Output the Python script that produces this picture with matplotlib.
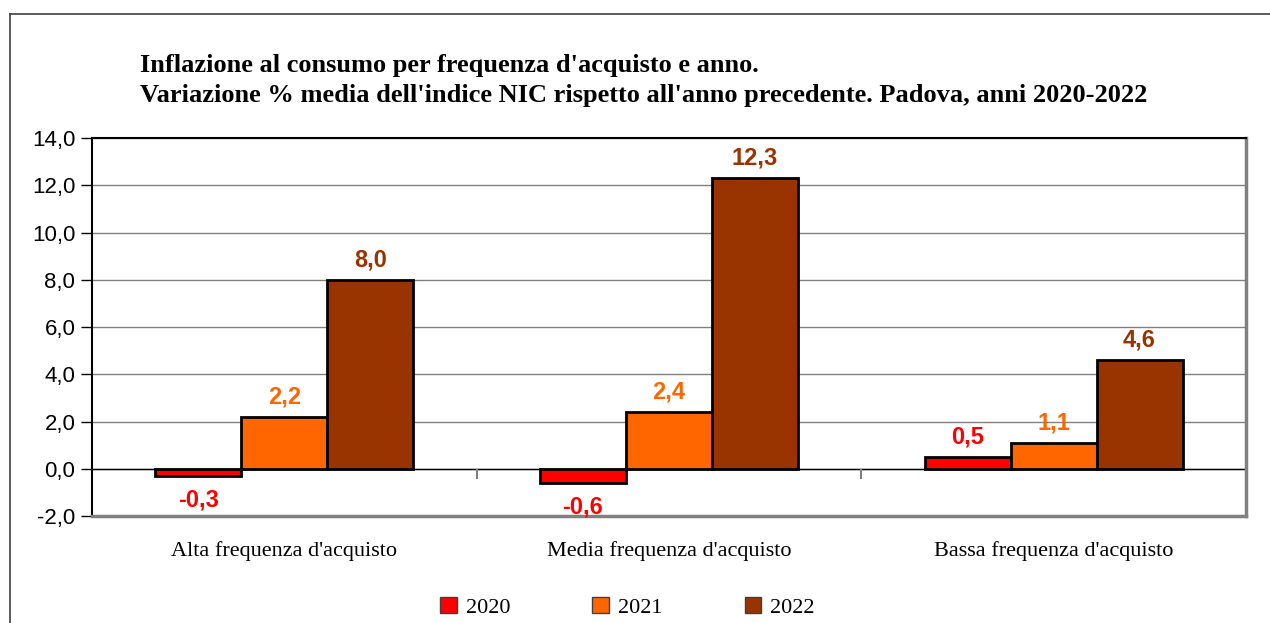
import numpy as np
import matplotlib.pyplot as plt
from matplotlib.lines import Line2D

# dati
categorie = ["Alta frequenza d'acquisto", "Media frequenza d'acquisto", "Bassa frequenza d'acquisto"]
anni = ["2020", "2021", "2022"]
val_2020 = [-0.3, -0.6, 0.5]
val_2021 = [2.2, 2.4, 1.1]
val_2022 = [8.0, 12.3, 4.6]
colori = ["#FF0000", "#FF6600", "#993300"]

titolo = ("Inflazione al consumo per frequenza d'acquisto e anno.\n"
          "Variazione % media dell'indice NIC rispetto all'anno precedente. Padova, anni 2020-2022")

fig = plt.figure(figsize=(12.7, 6.23), dpi=100)
ax = fig.add_axes([0.0724, 0.1717, 0.9086, 0.6068])

x = np.arange(len(categorie))
larghezza = 0.2235
serie = [val_2020, val_2021, val_2022]

for i, (vals, col, anno) in enumerate(zip(serie, colori, anni)):
    pos = x + (i - 1) * larghezza
    ax.bar(pos, vals, width=larghezza, color=col, edgecolor="black",
           linewidth=2, label=anno, zorder=3)
    for p, v in zip(pos, vals):
        off = 6 if v >= 0 else -9
        ax.annotate(f"{v:.1f}".replace(".", ","), (p, v), xytext=(0, off),
                    textcoords="offset points", ha="center",
                    va="bottom" if v >= 0 else "top",
                    color=col, fontsize=17, fontweight="bold",
                    family="Liberation Sans")

ax.set_ylim(-2, 14)
ax.set_xlim(-0.5, 2.5)
yt = np.arange(-2, 15, 2)
ax.set_yticks(yt)
ax.set_yticklabels([f"{v:.1f}".replace(".", ",") for v in yt],
                   family="Liberation Sans", fontsize=16)
ax.tick_params(axis="y", length=8, width=1, pad=4)
ax.set_xticks(x)
ax.set_xticklabels(categorie, family="Liberation Serif", fontsize=16)
ax.tick_params(axis="x", length=0, pad=18)

ax.yaxis.grid(True, color="#808080", linewidth=1, zorder=0)
ax.axhline(0, color="black", linewidth=1, zorder=2)
ax.vlines([0.5, 1.5], -0.45, 0, color="#808080", linewidth=1.5, zorder=2)

ax.spines["left"].set_color("black")
ax.spines["top"].set_color("black")
ax.spines["left"].set_linewidth(1.5)
ax.spines["top"].set_linewidth(1.5)
ax.spines["right"].set_color("#808080")
ax.spines["bottom"].set_color("#808080")
ax.spines["right"].set_linewidth(2.5)
ax.spines["bottom"].set_linewidth(2.5)

fig.text(0.110, 0.871, titolo, family="Liberation Serif", fontweight="bold",
         fontsize=19, ha="left", va="center", linespacing=1.38)

leg = fig.legend(loc="center", bbox_to_anchor=(0.494, 0.025), ncol=3, frameon=False,
                 prop={"family": "Liberation Serif", "size": 16},
                 handlelength=0.75, handleheight=0.75, handletextpad=0.4,
                 columnspacing=3.7)
for h in leg.legend_handles:
    h.set_edgecolor("#404040")
    h.set_linewidth(1)

# cornice esterna
fig.add_artist(Line2D([10 / 1270, 1], [1 - 14 / 623] * 2, color="#404040", linewidth=1.2))
fig.add_artist(Line2D([10 / 1270] * 2, [0, 1 - 14 / 623], color="#404040", linewidth=1.2))

fig.savefig("out.png", dpi=100)
